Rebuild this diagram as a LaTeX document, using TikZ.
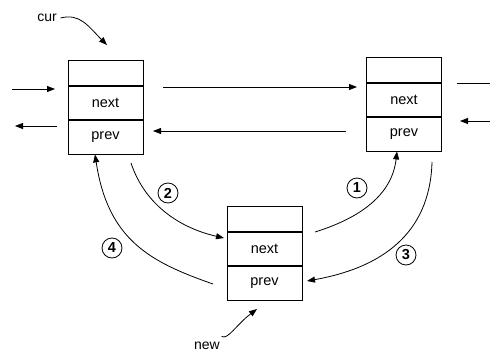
\documentclass[tikz,border=0pt]{standalone}
\usepackage{fontspec}
\setmainfont{Liberation Sans}
\usetikzlibrary{arrows.meta}
\begin{document}
\begin{tikzpicture}[x=1pt,y=-1pt,
  line width=0.8pt,
  cell/.style={draw,rectangle,inner sep=0pt,minimum width=75pt,anchor=north,font=\fontsize{14.5}{16}\selectfont},
  toph/.style={minimum height=25pt},
  fieldh/.style={minimum height=33.5pt},
  arr/.style={-{Triangle[length=8pt,width=6pt]}},
  num/.style={draw,circle,inner sep=0pt,minimum size=20pt,font=\fontsize{14.5}{16}\selectfont\bfseries},
  lbl/.style={font=\fontsize{14}{16}\selectfont}]
\useasboundingbox (0,0) rectangle (490,354);

% node "cur"
\node[cell,toph]   (Ltop)  at (105.5,60) {};
\node[cell,fieldh] (Lnext) at (Ltop.south) {next};
\node[cell,fieldh] (Lprev) at (Lnext.south) {prev};

% right neighbour
\node[cell,toph]   (Rtop)  at (404,57) {};
\node[cell,fieldh] (Rnext) at (Rtop.south) {next};
\node[cell,fieldh] (Rprev) at (Rnext.south) {prev};

% node "new"
\node[cell,toph]   (Ntop)  at (264.5,206) {};
\node[cell,fieldh] (Nnext) at (Ntop.south) {next};
\node[cell,fieldh] (Nprev) at (Nnext.south) {prev};

% labels
\node[lbl] (cur) at (47,18) {cur};
\node[lbl] (new) at (207,346) {new};

% loose ends of the list
\coordinate (inL)   at (12,89);
\coordinate (inLe)  at (55,89);
\coordinate (outLs) at (57,126);
\coordinate (outL)  at (15,126);
\coordinate (topS)  at (163,87);
\coordinate (topE)  at (357,87);
\coordinate (botS)  at (346,131);
\coordinate (botE)  at (153,131);
\coordinate (outRs) at (457,83);
\coordinate (outR)  at (490,83);
\coordinate (inR)   at (490,121);
\coordinate (inRe)  at (460,121);

\draw[arr] (inL) -- (inLe);
\draw[arr] (outLs) -- (outL);
\draw[arr] (topS) -- (topE);
\draw[arr] (botS) -- (botE);
\draw (outRs) -- (outR);
\draw[arr] (inR) -- (inRe);

% pointer labels
\draw[arr] (cur.east) .. controls (80,13) and (88,26) .. (107,45);
\draw[arr] (new.north east) ++(-2,-2) .. controls (228,340) and (236,325) .. (257,309);

% relinking steps
\coordinate (s1) at (315,232);
\coordinate (s2) at (131,163);
\coordinate (s3) at (432,162);
\coordinate (s4) at (213,284);
\draw[arr] (s1) .. controls (360,218) and (392,195) .. (Rprev.south -| 397,0);
\draw[arr] (s2) .. controls (145,205) and (180,228) .. (224,238);
\draw[arr] (s3) .. controls (430,235) and (380,268) .. (307,281);
\draw[arr] (s4) .. controls (150,262) and (108,240) .. (Lprev.south -| 95,0);

\node[num] (n1) at (357,188) {1};
\node[num] (n2) at (168,193) {2};
\node[num] (n3) at (406,255) {3};
\node[num] (n4) at (112,248) {4};
\end{tikzpicture}
\end{document}
